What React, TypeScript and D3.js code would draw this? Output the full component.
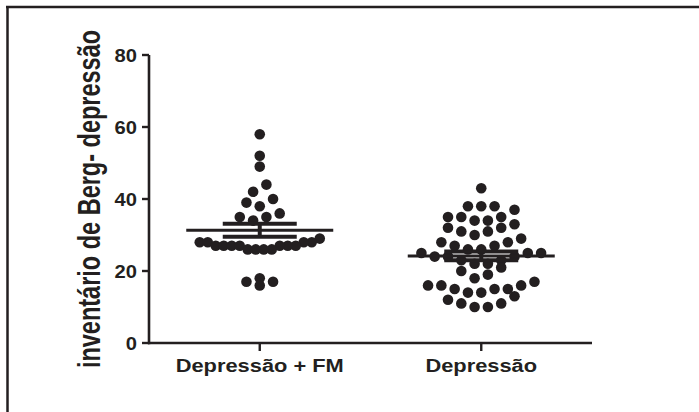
import React from 'react';
import * as d3 from 'd3';

// values (inventário de Berg - depressão)
const categories = ['Depressão + FM', 'Depressão'];
const depressaoFM = [58, 52, 49, 44, 42, 40, 39, 38, 36, 35, 35, 34, 29, 28, 28, 28, 28,
  27, 27, 27, 27, 27, 27, 27, 26, 26, 26, 26, 18, 17, 17, 16];
const depressao = [43, 38, 38, 38, 37, 35, 35, 35, 34, 34, 33, 32, 32, 31, 31, 30, 29, 28, 28,
  27, 27, 26, 26, 25, 25, 25, 24, 24, 24, 23, 23, 22, 22, 21, 20, 19, 18, 17,
  16, 16, 16, 15, 15, 15, 14, 14, 13, 12, 11, 11, 10, 10];
const means = [31.3, 24.2];
const sems = [1.8, 1.2];
const yTicks = [0, 20, 40, 60, 80];

const W = 699;
const H = 412;
const INK = '#231f20';
const FONT = '"Liberation Sans", Arial, sans-serif';

const x = d3.scaleBand().domain(categories).range([149, 592]);
const y = d3.scaleLinear().domain([0, 80]).range([343, 55]);

// prism style scatter: values binned in rows of 4 units, each row spread
// from the outside in (largest value first, right side first)
const scatterRows = (values: number[], step: number, maxSpan: number) => {
  const bins = d3.group(values, v => Math.floor((v - 2) / 4));
  const out: { px: number; py: number }[] = [];
  bins.forEach(row => {
    const vals = [...row].sort((a, b) => b - a);
    const n = vals.length;
    const s = n > 1 ? Math.min(step, maxSpan / (n - 1)) : step;
    const offs = d3.range(n).map(i => (i - (n - 1) / 2) * s)
      .sort((a, b) => Math.abs(b) - Math.abs(a) || b - a);
    vals.forEach((v, i) => out.push({ px: offs[i], py: y(v) }));
  });
  return out;
};

const App = () => {
  const groups = [depressaoFM, depressao];
  const cx = (c: string) => (x(c) as number) + x.bandwidth() / 2;

  return (
    <svg width={W} height={H} style={{ position: 'absolute', left: 0, top: 0, background: '#fff' }}>
      {/* frame */}
      <line x1={7.5} x2={7.5} y1={6} y2={H} stroke={INK} strokeWidth={2.5} />
      <line x1={6} x2={W} y1={7} y2={7} stroke={INK} strokeWidth={2.5} />

      {/* dots */}
      {groups.map((vals, gi) => {
        const c = cx(categories[gi]);
        return (
          <g key={gi}>
            {scatterRows(vals, 13.3, 120).map((p, i) => (
              <circle key={i} cx={c + p.px} cy={p.py} r={5.3} fill={INK} />
            ))}
          </g>
        );
      })}

      {/* mean +- sem */}
      {categories.map((cat, gi) => {
        const c = cx(cat);
        const m = y(means[gi]);
        const hi = y(means[gi] + sems[gi]);
        const lo = y(means[gi] - sems[gi]);
        return (
          <g key={cat} stroke={INK}>
            <line x1={c - 73.5} x2={c + 73.5} y1={m} y2={m} strokeWidth={3} />
            <line x1={c} x2={c} y1={hi} y2={lo} strokeWidth={4} />
            <line x1={c - 37} x2={c + 37} y1={hi} y2={hi} strokeWidth={4} />
            <line x1={c - 37} x2={c + 37} y1={lo} y2={lo} strokeWidth={4} />
          </g>
        );
      })}

      {/* y axis */}
      <line x1={149} x2={149} y1={y(80)} y2={y(0) + 1.3} stroke={INK} strokeWidth={2.6} />
      {yTicks.map(t => (
        <g key={t}>
          <line x1={142} x2={149} y1={y(t)} y2={y(t)} stroke={INK} strokeWidth={2.4} />
          <text
            transform={`translate(137,${y(t) + 6.6}) scale(1.12,1)`}
            textAnchor="end"
            fontFamily={FONT}
            fontWeight="bold"
            fontSize={18}
            fill={INK}
          >
            {t}
          </text>
        </g>
      ))}

      {/* x axis */}
      <line x1={148} x2={592} y1={y(0)} y2={y(0)} stroke={INK} strokeWidth={2.6} />
      {categories.map(cat => (
        <g key={cat}>
          <line x1={cx(cat)} x2={cx(cat)} y1={y(0)} y2={y(0) + 8} stroke={INK} strokeWidth={2.4} />
          <text
            transform={`translate(${cx(cat)},372) scale(1.15,1)`}
            textAnchor="middle"
            fontFamily={FONT}
            fontWeight="bold"
            fontSize={19}
            fill={INK}
          >
            {cat}
          </text>
        </g>
      ))}

      {/* y title */}
      <text
        transform="translate(100,199) scale(1.3,1) rotate(-90)"
        textAnchor="middle"
        fontFamily={FONT}
        fontWeight="bold"
        fontSize={23.5}
        fill={INK}
      >
        inventário de Berg- depressão
      </text>
    </svg>
  );
};

export default App;
